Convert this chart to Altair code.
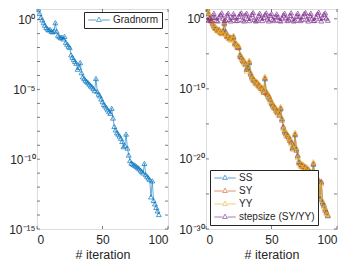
import altair as alt
import numpy as np
import pandas as pd

iterations = list(range(1, 94))

gradnorm_log10 = [
    0.76, 0.45, 0.17, -0.02, -0.22, -0.40, -0.56, -0.66, -0.74, -0.70,
    -0.84, -0.88, -0.80, -0.22, -0.82, -1.12, -1.22, -1.30, -1.26, -1.38,
    -1.20, -1.62, -1.76, -1.90, -2.00, -2.52, -2.70, -2.86, -3.00, -3.12,
    -3.55, -3.42, -3.08, -3.80, -4.10, -4.22, -4.34, -4.44, -4.52, -4.62,
    -4.74, -4.82, -4.94, -5.08, -4.22, -5.15, -5.34, -5.46, -5.68, -5.88,
    -6.08, -6.18, -6.32, -6.46, -6.60, -6.72, -6.35, -7.05, -7.65, -7.90,
    -8.10, -8.20, -8.34, -8.50, -8.72, -9.10, -9.02, -8.20, -9.20, -9.70,
    -10.10, -10.28, -10.34, -10.40, -10.46, -10.52, -10.60, -10.68, -10.78, -10.88,
    -10.98, -10.30, -11.10, -11.22, -11.34, -11.46, -12.70, -11.55, -12.95, -13.20,
    -13.45, -13.70, -13.96,
]

ss_log10 = [
    1.45, 0.80, 0.25, -0.15, -0.55, -0.90, -1.20, -1.40, -1.55, -1.50,
    -1.80, -1.90, -1.75, -0.55, -1.75, -2.35, -2.55, -2.70, -2.60, -2.85,
    -2.50, -3.35, -3.60, -3.90, -4.10, -5.15, -5.50, -5.80, -6.10, -6.35,
    -7.20, -6.95, -6.25, -7.70, -8.30, -8.55, -8.80, -9.00, -9.15, -9.35,
    -9.60, -9.75, -10.00, -10.30, -8.55, -10.40, -10.80, -11.05, -11.50, -11.90,
    -12.30, -12.50, -12.80, -13.05, -13.35, -13.60, -12.85, -14.25, -15.45, -15.95,
    -16.35, -16.55, -16.85, -17.15, -17.60, -18.35, -18.20, -16.55, -18.55, -19.55,
    -20.35, -20.70, -20.85, -20.95, -21.10, -21.20, -21.35, -21.55, -21.75, -21.95,
    -22.15, -20.75, -22.40, -22.65, -22.85, -23.10, -25.60, -23.30, -26.10, -26.60,
    -27.10, -27.60, -28.10,
]

sy_log10 = [
    1.40, 0.70, 0.10, -0.30, -0.70, -1.05, -1.35, -1.30, -1.70, -1.65,
    -1.95, -2.10, -1.60, -0.70, -2.00, -2.50, -2.40, -2.85, -2.75, -2.70,
    -2.65, -3.55, -3.45, -4.10, -3.95, -5.35, -5.35, -6.00, -5.95, -6.55,
    -7.05, -7.15, -6.10, -7.90, -8.15, -8.75, -8.65, -9.20, -9.00, -9.55,
    -9.45, -9.95, -9.85, -10.50, -8.40, -10.60, -10.65, -11.25, -11.35, -12.10,
    -12.15, -12.70, -12.65, -13.25, -13.20, -13.80, -12.70, -14.45, -15.30, -16.15,
    -16.20, -16.75, -16.70, -17.35, -17.45, -18.55, -18.05, -16.40, -18.75, -19.40,
    -20.55, -20.55, -21.05, -20.80, -21.30, -21.05, -21.55, -21.40, -21.95, -21.80,
    -22.35, -20.60, -22.60, -22.50, -23.05, -22.95, -25.80, -23.15, -26.30, -26.45,
    -27.30, -27.45, -28.00,
]

yy_log10 = [
    1.30, 0.95, 0.35, -0.05, -0.45, -0.80, -1.10, -1.60, -1.40, -1.85,
    -1.70, -1.75, -2.10, -0.40, -2.20, -2.20, -2.75, -2.50, -3.05, -2.75,
    -2.35, -3.30, -3.85, -3.70, -3.80, -4.95, -5.75, -5.60, -6.30, -6.15,
    -7.45, -6.70, -5.90, -7.55, -8.45, -8.35, -9.00, -8.80, -9.40, -9.15,
    -9.80, -9.60, -10.25, -10.05, -8.20, -10.25, -11.05, -10.85, -11.75, -11.70,
    -12.55, -12.30, -13.05, -12.85, -13.55, -13.40, -12.50, -14.10, -15.70, -15.75,
    -16.60, -16.35, -17.10, -16.90, -17.85, -18.10, -18.45, -16.20, -18.35, -19.80,
    -20.15, -20.95, -20.65, -21.20, -20.90, -21.45, -21.15, -21.75, -21.55, -22.15,
    -21.95, -20.40, -22.25, -22.90, -22.65, -23.35, -25.40, -23.55, -25.90, -26.85,
    -26.90, -27.80, -27.90,
]

stepsize_log10 = [
    -0.10, -0.20, 0.10, -0.25, 0.25, 0.80, 0.20, -0.20, -0.30, 0.30,
    0.60, 0.85, 0.10, -0.25, -0.15, 0.55, 0.80, -0.10, -0.30, 0.20,
    0.75, 0.30, -0.25, -0.20, 0.35, 0.70, 0.85, -0.15, -0.30, 0.55,
    0.80, 0.05, -0.25, 0.15, 0.65, 0.90, -0.10, -0.30, -0.20, 0.45,
    0.80, 0.10, -0.25, 0.20, 0.60, 0.85, -0.05, -0.30, 0.50, 0.75,
    -0.10, -0.25, 0.30, 0.70, 0.25, -0.20, -0.30, 0.10, 0.55, 0.80,
    0.15, -0.25, -0.15, 0.50, 0.85, 0.00, -0.30, -0.20, 0.40, 0.80,
    0.30, -0.25, -0.10, 0.35, 0.75, 0.90, -0.05, -0.30, 0.45, 0.80,
    0.10, -0.25, -0.20, 0.30, 0.70, 0.95, 0.05, -0.30, 0.20, 0.65,
    0.85, 0.10, -0.20,
]

left_series = ["Gradnorm"]
right_series = ["SS", "SY", "YY", "stepsize (SY/YY)"]
left_colors = ["#0072BD"]
right_colors = ["#0072BD", "#D95319", "#EDB120", "#7E2F8E"]

x_ticks = [0, 50, 100]
left_tick_exps = list(range(-15, 1))
left_label_exps = [0, -5, -10, -15]
right_tick_exps = [0, -5, -10, -15, -20, -25, -30]
right_label_exps = [0, -10, -20, -30]

W, H = 131, 220
FONT = "Liberation Sans"
INK = "#262626"

SUP = {"0": "\u2070", "1": "\u00b9", "2": "\u00b2", "3": "\u00b3", "4": "\u2074",
       "5": "\u2075", "6": "\u2076", "7": "\u2077", "8": "\u2078", "9": "\u2079",
       "-": "\u207b"}


def label_expr(exps):
    parts = [f"abs(log(datum.value)/LN10 - ({e})) < 0.01 ? '10{''.join(SUP[c] for c in str(e))}'"
             for e in exps]
    return " : ".join(parts) + " : ''"


def long_df(names, logs):
    frames = []
    for n, l in zip(names, logs):
        frames.append(pd.DataFrame({"iteration": iterations,
                                    "value": np.power(10.0, np.array(l)),
                                    "series": n}))
    return pd.concat(frames, ignore_index=True)


legend_symbol = "M-4.4,0L-1.1,0M1.1,0L4.4,0M-1,0.577L0,-1.155L1,0.577Z"


def panel(df, names, colors, ydom, tick_exps, label_exps, legend_xy):
    xs = alt.Scale(domain=[0, 100], nice=False)
    ys = alt.Scale(type="log", domain=ydom, nice=False)
    x = alt.X("iteration:Q", scale=xs,
              axis=alt.Axis(values=x_ticks, title="# iteration", grid=False, ticks=False,
                            domain=False, labelPadding=5, labelFontSize=12, labelFont=FONT,
                            labelColor=INK, titleFont=FONT, titleFontSize=12.5,
                            titleFontWeight="normal", titleColor=INK, titlePadding=3))
    y = alt.Y("value:Q", scale=ys,
              axis=alt.Axis(values=[10.0 ** e for e in tick_exps], labelExpr=label_expr(label_exps),
                            title=None, grid=False, ticks=False, domain=False, labelPadding=2,
                            labelFontSize=12, labelFont=FONT, labelColor=INK))
    color = alt.Color("series:N", scale=alt.Scale(domain=names, range=colors), sort=names,
                      legend=alt.Legend(orient="none", legendX=legend_xy[0], legendY=legend_xy[1],
                                        title=None, symbolType=legend_symbol, symbolSize=24,
                                        symbolStrokeWidth=0.75, symbolOffset=7, labelOffset=9,
                                        symbolFillColor="transparent",
                                        labelFont=FONT, labelFontSize=10, labelColor=INK,
                                        strokeColor=INK, fillColor="white", padding=3,
                                        rowPadding=3, labelLimit=200))
    base = alt.Chart(df)
    lines = base.mark_line(strokeWidth=0.7, opacity=0.85, clip=True).encode(x=x, y=y, color=color)
    points = base.mark_point(shape="triangle-up", size=24, strokeWidth=0.75, filled=False,
                             opacity=0.9, clip=True).encode(x=x, y=y, color=color)
    tick_df = pd.DataFrame({"value": [10.0 ** e for e in tick_exps]})
    xt_df = pd.DataFrame({"iteration": x_ticks})
    yl = alt.Chart(tick_df).mark_rule(color=INK, strokeWidth=0.6).encode(
        y=alt.Y("value:Q", scale=ys), x=alt.value(0), x2=alt.value(3))
    yr = alt.Chart(tick_df).mark_rule(color=INK, strokeWidth=0.6).encode(
        y=alt.Y("value:Q", scale=ys), x=alt.value(W), x2=alt.value(W - 3))
    xb = alt.Chart(xt_df).mark_rule(color=INK, strokeWidth=0.6).encode(
        x=alt.X("iteration:Q", scale=xs), y=alt.value(H), y2=alt.value(H - 3))
    xtp = alt.Chart(xt_df).mark_rule(color=INK, strokeWidth=0.6).encode(
        x=alt.X("iteration:Q", scale=xs), y=alt.value(0), y2=alt.value(3))
    return alt.layer(lines, points, yl, yr, xb, xtp).properties(width=W, height=H)


left_df = long_df(left_series, [gradnorm_log10])
right_df = long_df(right_series, [ss_log10, sy_log10, yy_log10, stepsize_log10])

left = panel(left_df, left_series, left_colors, [1e-15, 10 ** 0.76],
             left_tick_exps, left_label_exps, (47, 3))
right = panel(right_df, right_series, right_colors, [1e-30, 10 ** 1.4],
              right_tick_exps, right_label_exps, (4, 161))

chart = alt.hconcat(left, right, spacing=38, bounds="flush").resolve_scale(
    color="independent", x="independent", y="independent").resolve_legend(
    color="independent").configure_view(stroke="#8c8c8c", strokeWidth=0.8).configure(
    padding=0, background="white")

chart.save("out.html", embed_options={"renderer": "svg", "actions": False})
